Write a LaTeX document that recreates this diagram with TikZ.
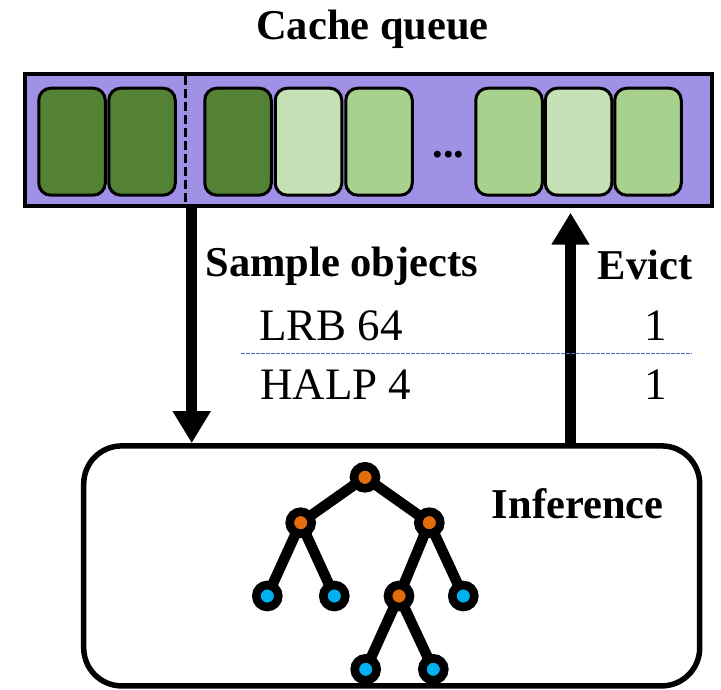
\documentclass[tikz,border=0pt]{standalone}
\usepackage{fontspec}
\setmainfont{Liberation Serif}
\usetikzlibrary{arrows.meta}

\definecolor{queuefill}{RGB}{160,144,230}
\definecolor{darkgreen}{RGB}{84,130,53}
\definecolor{lightgreen}{RGB}{197,224,180}
\definecolor{midgreen}{RGB}{169,209,142}
\definecolor{innerorange}{RGB}{228,108,10}
\definecolor{leafblue}{RGB}{0,176,240}
\definecolor{sepblue}{RGB}{68,114,196}

\tikzset{
  queuebox/.style={draw=black, line width=4pt, fill=queuefill, inner sep=0pt,
    minimum width=687pt, minimum height=132pt},
  cell/.style={draw=black, line width=3pt, rounded corners=12pt, inner sep=0pt,
    minimum width=66.5pt, minimum height=107pt},
  inferbox/.style={draw=black, line width=5.5pt, rounded corners=38pt, inner sep=0pt,
    minimum width=616pt, minimum height=240pt},
  boldlabel/.style={inner sep=0pt, anchor=base, font=\fontsize{42.5}{50}\selectfont\bfseries},
  plainlabel/.style={inner sep=0pt, font=\fontsize{45}{54}\selectfont},
  flowarrow/.style={line width=11pt, -{Triangle[width=36pt,length=32pt]}},
  treenode/.style={circle, draw=black, line width=8.6pt, minimum size=22pt, inner sep=0pt},
  inner/.style={treenode, fill=innerorange},
  leaf/.style={treenode, fill=leafblue},
  branch/.style={line width=10.5pt, shorten <=-3pt, shorten >=-3pt}
}

\begin{document}
\begin{tikzpicture}[x=1pt, y=-1pt]
  \useasboundingbox (0,0) rectangle (721,689);

  % title
  \node[boldlabel] (title) at (372.5,39.3) {Cache queue};

  % cache queue with its entries
  \node[queuebox] (queue) at (368.5,140) {};
  \node[cell, fill=darkgreen]  (c1) at (72,141.7) {};
  \node[cell, fill=darkgreen]  (c2) at (142,141.7) {};
  \node[cell, fill=darkgreen]  (c3) at (238,141.7) {};
  \node[cell, fill=lightgreen] (c4) at (308.5,141.7) {};
  \node[cell, fill=midgreen]   (c5) at (379,141.7) {};
  \node[cell, fill=midgreen]   (c6) at (509,141.7) {};
  \node[cell, fill=lightgreen] (c7) at (578.5,141.7) {};
  \node[cell, fill=midgreen]   (c8) at (648,141.7) {};
  \node[boldlabel] (dots) at (448.5,157.3) {...};

  % boundary of the sampled region
  \coordinate (cuttop) at (185.7,76);
  \coordinate (cutbot) at (185.7,206);
  \draw[line width=2.6pt, dash pattern=on 9pt off 4pt] (cuttop) -- (cutbot);

  % inference box
  \node[inferbox] (infer) at (391.7,565.9) {};
  \node[boldlabel] (inflabel) at (577.7,518.3) {Inference};

  % arrows between queue and inference
  \coordinate (downx) at (191.7,0);
  \coordinate (upx) at (570.5,0);
  \draw[flowarrow] (downx |- queue.south) -- (downx |- infer.north);
  \draw[flowarrow, shorten >=4.7pt] (upx |- infer.north) -- (upx |- queue.south);

  % labels and sample/evict table
  \node[boldlabel] (sample) at (341.8,276.7) {Sample objects};
  \node[boldlabel] (evict) at (645,279.3) {Evict};
  \node[plainlabel, anchor=base west] (lrb) at (259,340.5) {LRB 64};
  \node[plainlabel, anchor=base west] (halp) at (260,399.5) {HALP 4};
  \node[plainlabel, anchor=base] (lrbn) at (655.5,340.5) {1};
  \node[plainlabel, anchor=base] (halpn) at (655.5,399.5) {1};
  \coordinate (sepl) at (241,353.7);
  \coordinate (sepr) at (691.7,353.7);
  \draw[sepblue, line width=1.5pt, dash pattern=on 3.5pt off 1.5pt] (sepl) -- (sepr);

  % decision tree
  \node[inner] (root) at (365,477.3) {};
  \node[inner] (l)    at (300.7,522.7) {};
  \node[inner] (r)    at (429.3,522.7) {};
  \node[leaf]  (ll)   at (267.3,596) {};
  \node[leaf]  (lr)   at (334.3,596) {};
  \node[inner] (rl)   at (399,596) {};
  \node[leaf]  (rr)   at (463.3,596) {};
  \node[leaf]  (rll)  at (365.7,669.3) {};
  \node[leaf]  (rlr)  at (433.3,669.3) {};
  \draw[branch] (root) -- (l);
  \draw[branch] (root) -- (r);
  \draw[branch] (l) -- (ll);
  \draw[branch] (l) -- (lr);
  \draw[branch] (r) -- (rl);
  \draw[branch] (r) -- (rr);
  \draw[branch] (rl) -- (rll);
  \draw[branch] (rl) -- (rlr);
\end{tikzpicture}
\end{document}
